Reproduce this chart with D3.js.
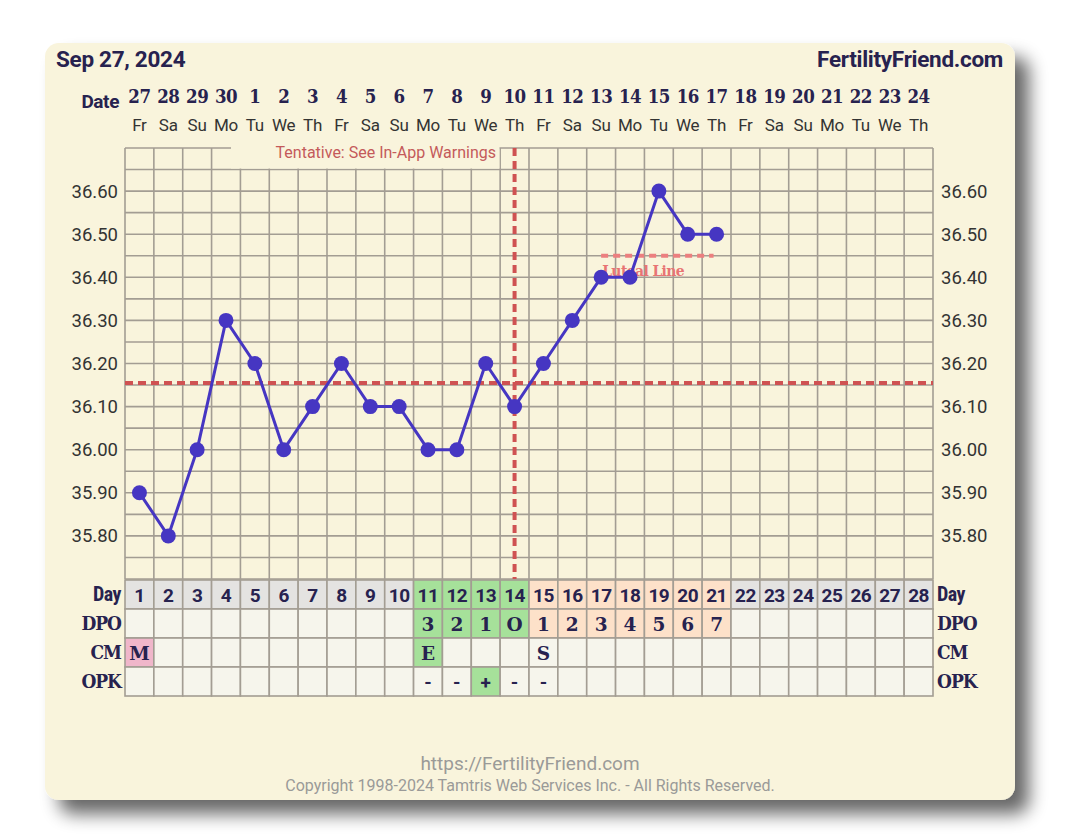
<!DOCTYPE html>
<html>
<head>
<meta charset="utf-8">
<script src="https://cdn.jsdelivr.net/npm/d3@7"></script>
<style>
  html, body { margin: 0; padding: 0; background: #ffffff; }
  svg { display: block; }
</style>
</head>
<body>
<svg id="chart" width="1080" height="834"></svg>
<script>
// ---------- DATA ----------
const cycleDays = d3.range(1, 29);
const dateNums = [27,28,29,30,1,2,3,4,5,6,7,8,9,10,11,12,13,14,15,16,17,18,19,20,21,22,23,24];
const dayNames = ["Fr","Sa","Su","Mo","Tu","We","Th","Fr","Sa","Su","Mo","Tu","We","Th","Fr","Sa","Su","Mo","Tu","We","Th","Fr","Sa","Su","Mo","Tu","We","Th"];
const temps = [35.90,35.80,36.00,36.30,36.20,36.00,36.10,36.20,36.10,36.10,36.00,36.00,36.20,36.10,36.20,36.30,36.40,36.40,36.60,36.50,36.50];
const yTicks = [35.80,35.90,36.00,36.10,36.20,36.30,36.40,36.50,36.60];
const coverline = 36.155;
const ovulationDay = 14;
const lutealLevel = 36.45;
const lutealDays = [17, 21];
const dpoLabels = {11:"3",12:"2",13:"1",14:"O",15:"1",16:"2",17:"3",18:"4",19:"5",20:"6",21:"7"};
const cmLabels = {1:"M",11:"E",15:"S"};
const opkLabels = {11:"-",12:"-",13:"+",14:"-",15:"-"};
const fertileDays = [11,12,13,14];
const lutealPhaseDays = [15,16,17,18,19,20,21];
const chartDate = "Sep 27, 2024";
const siteName = "FertilityFriend.com";
const tentativeText = "Tentative: See In-App Warnings";
const footerUrl = "https://FertilityFriend.com";
const footerCopy = "Copyright 1998-2024 Tamtris Web Services Inc. - All Rights Reserved.";

// ---------- STYLE ----------
const bg = "#f9f4dc";
const navy = "#27224f";
const gridCol = "#a39d93";
const lineCol = "#4636c2";
const redCol = "#cf5252";
const sans = "Roboto, 'Noto Sans', sans-serif";
const slab = "'DejaVu Serif', serif";

const svg = d3.select("#chart");
const defs = svg.append("defs");
const f = defs.append("filter").attr("id","shadow").attr("x","-10%").attr("y","-10%").attr("width","130%").attr("height","130%");
f.append("feGaussianBlur").attr("in","SourceAlpha").attr("stdDeviation",9).attr("result","b");
f.append("feOffset").attr("in","b").attr("dx",14).attr("dy",14).attr("result","o");
f.append("feComponentTransfer").attr("in","o").attr("result","o2")
  .append("feFuncA").attr("type","linear").attr("slope",0.6);
const m = f.append("feMerge");
m.append("feMergeNode").attr("in","o2");
m.append("feMergeNode").attr("in","SourceGraphic");

svg.append("rect").attr("x",45).attr("y",43).attr("width",970).attr("height",757)
  .attr("rx",14).attr("fill",bg).attr("filter","url(#shadow)");

// scales
const x = d3.scaleBand().domain(cycleDays).range([125, 933]).padding(0);
const cx = d => x(d) + x.bandwidth()/2;
const y = d3.scaleLinear().domain([35.70, 36.70]).range([579, 148]);

// header
svg.append("text").attr("x",56).attr("y",67).attr("font-family",sans).attr("font-weight",700)
  .attr("font-size",22.5).attr("fill",navy).attr("letter-spacing","-0.3").text(chartDate);
svg.append("text").attr("x",1003).attr("y",67).attr("text-anchor","end").attr("font-family",sans).attr("font-weight",700)
  .attr("font-size",22.5).attr("fill",navy).attr("letter-spacing","-0.3").text(siteName);

svg.append("text").attr("x",119).attr("y",108).attr("text-anchor","end").attr("font-family",sans)
  .attr("font-weight",700).attr("font-size",19).attr("fill",navy).attr("letter-spacing","-0.4").text("Date");
svg.append("g").selectAll("text").data(cycleDays).join("text")
  .attr("x", d => cx(d)).attr("y",103).attr("text-anchor","middle")
  .attr("font-family",slab).attr("font-weight",700).attr("font-size",18.5).attr("font-stretch","condensed")
  .attr("letter-spacing","-0.5").attr("fill",navy).text((d,i) => dateNums[i]);
svg.append("g").selectAll("text").data(cycleDays).join("text")
  .attr("x", d => cx(d)).attr("y",131).attr("text-anchor","middle")
  .attr("font-family",sans).attr("font-size",17).attr("fill","#333").attr("letter-spacing","-0.2").text((d,i) => dayNames[i]);

// grid
const grid = svg.append("g");
const hLevels = d3.range(0, 21).map(i => +(35.70 + i*0.05).toFixed(2));
grid.selectAll("line.h").data(hLevels).join("line").attr("class","h")
  .attr("x1",125).attr("x2",933).attr("y1",d=>y(d)).attr("y2",d=>y(d))
  .attr("stroke",gridCol).attr("stroke-width",1.6);
const vEdges = cycleDays.map(d => x(d)).concat([933]);
grid.selectAll("line.v").data(vEdges).join("line").attr("class","v")
  .attr("x1",d=>d).attr("x2",d=>d).attr("y1",y(36.70)).attr("y2",y(35.70))
  .attr("stroke",gridCol).attr("stroke-width",1.6);

// tentative label box
svg.append("rect").attr("x",231).attr("y",140).attr("width",268.5).attr("height",y(36.65)-140-1).attr("fill",bg);
svg.append("text").attr("x",496).attr("y",158).attr("text-anchor","end").attr("font-family",sans)
  .attr("font-size",16).attr("fill","#c45a5a").text(tentativeText);

// axes labels
const fmt = d3.format(".2f");
const yl = svg.append("g").attr("transform","translate(125,0)")
  .call(d3.axisLeft(y).tickValues(yTicks).tickFormat(fmt).tickSize(0).tickPadding(7));
const yr = svg.append("g").attr("transform","translate(933,0)")
  .call(d3.axisRight(y).tickValues(yTicks).tickFormat(fmt).tickSize(0).tickPadding(8));
[yl, yr].forEach(g => {
  g.select(".domain").remove();
  g.selectAll("text").attr("font-family",sans).attr("font-size",18.5).attr("fill","#333");
});

// coverline and ovulation line
svg.append("line").attr("x1",125).attr("x2",933).attr("y1",y(coverline)).attr("y2",y(coverline))
  .attr("stroke",redCol).attr("stroke-width",4).attr("stroke-dasharray","8,5");
svg.append("line").attr("x1",cx(ovulationDay)).attr("x2",cx(ovulationDay)).attr("y1",y(36.70)).attr("y2",y(35.70))
  .attr("stroke",redCol).attr("stroke-width",4).attr("stroke-dasharray","8,5");

// luteal line
svg.append("line").attr("x1",cx(lutealDays[0])).attr("x2",cx(lutealDays[1]) - 3)
  .attr("y1",y(lutealLevel)).attr("y2",y(lutealLevel))
  .attr("stroke","#ec7f7f").attr("stroke-width",4).attr("stroke-dasharray","7,5");
svg.append("text").attr("x",cx(lutealDays[0]) + 1).attr("y",y(lutealLevel) + 20)
  .attr("font-family",slab).attr("font-weight",700).attr("font-size",15.5).attr("font-stretch","condensed")
  .attr("fill","#e87474").attr("letter-spacing","-0.6").text("Luteal Line");

// temperature line
const pts = temps.map((t,i) => ({day: i+1, t}));
svg.append("path").datum(pts)
  .attr("d", d3.line().x(d => cx(d.day)).y(d => y(d.t)))
  .attr("fill","none").attr("stroke",lineCol).attr("stroke-width",3).attr("stroke-linejoin","round");
svg.append("g").selectAll("circle").data(pts).join("circle")
  .attr("cx", d => cx(d.day)).attr("cy", d => y(d.t)).attr("r",7.5).attr("fill",lineCol);

// ---------- TABLE ----------
const rowTop = 580, rowH = 29;
const rows = ["Day","DPO","CM","OPK"];
const cellFill = (r, d) => {
  if (r === 0) {
    if (fertileDays.includes(d)) return "#a6e19a";
    if (lutealPhaseDays.includes(d)) return "#fde1c9";
    return "#e4e3e1";
  }
  if (r === 1) {
    if (fertileDays.includes(d)) return "#a6e19a";
    if (lutealPhaseDays.includes(d)) return "#fde1c9";
    return "#f6f5ec";
  }
  if (r === 2) {
    if (d === 1) return "#f0b6ca";
    if (d === 11) return "#a6e19a";
    return "#f6f5ec";
  }
  if (d === 13) return "#a6e19a";
  return "#f6f5ec";
};
const tbl = svg.append("g");
rows.forEach((name, r) => {
  const yy = rowTop + r*rowH;
  tbl.append("g").selectAll("rect").data(cycleDays).join("rect")
    .attr("x", d => x(d)).attr("y", yy).attr("width", x.bandwidth()).attr("height", rowH)
    .attr("fill", d => cellFill(r, d)).attr("stroke", gridCol).attr("stroke-width",1.6);
  const isDay = r === 0;
  const lf = isDay ? sans : slab;
  const lsz = isDay ? 20 : 19;
  tbl.append("text").attr("x",121).attr("y",yy+21).attr("text-anchor","end")
    .attr("font-family",lf).attr("font-weight",700).attr("font-size",lsz).attr("font-stretch","condensed")
    .attr("letter-spacing", isDay ? "-0.5" : "-1").attr("fill",navy).text(name);
  tbl.append("text").attr("x",937).attr("y",yy+21)
    .attr("font-family",lf).attr("font-weight",700).attr("font-size",lsz).attr("font-stretch","condensed")
    .attr("letter-spacing", isDay ? "-0.5" : "-1").attr("fill",navy).text(name);
});
// Day numbers
tbl.append("g").selectAll("text").data(cycleDays).join("text")
  .attr("x", d => cx(d)).attr("y", rowTop + 21.5).attr("text-anchor","middle")
  .attr("font-family",sans).attr("font-weight",700).attr("font-size",19).attr("letter-spacing","-0.5")
  .attr("fill",navy).text(d => d);
const labelRow = (obj, r, fam, sz) => {
  const keys = Object.keys(obj).map(Number);
  tbl.append("g").selectAll("text").data(keys).join("text")
    .attr("x", d => cx(d)).attr("y", rowTop + r*rowH + 21.5).attr("text-anchor","middle")
    .attr("font-family",fam).attr("font-weight",700).attr("font-size",sz)
    .attr("fill",navy).text(d => obj[d]);
};
labelRow(dpoLabels, 1, slab, 18.5);
labelRow(cmLabels, 2, slab, 18.5);
labelRow(opkLabels, 3, sans, 19);

// footer
svg.append("text").attr("x",530).attr("y",770).attr("text-anchor","middle").attr("font-family",sans)
  .attr("font-size",19).attr("fill","#9a9a98").text(footerUrl);
svg.append("text").attr("x",530).attr("y",791).attr("text-anchor","middle").attr("font-family",sans)
  .attr("font-size",16).attr("fill","#9a9a98").text(footerCopy);
</script>
</body>
</html>
